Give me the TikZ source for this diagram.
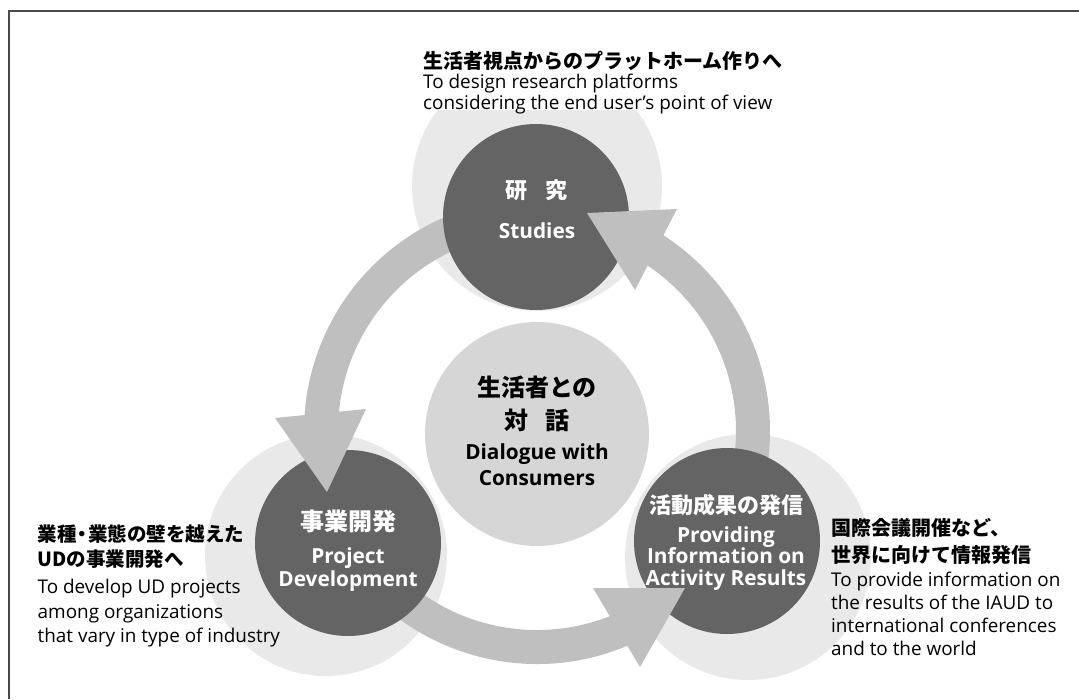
\documentclass[tikz,border=0pt]{standalone}
\usepackage{fontspec}
\setmainfont{Open Sans}
\newfontfamily\jp{Noto Sans CJK JP Black}
\definecolor{darkc}{HTML}{646464}
\definecolor{haloc}{HTML}{E9E9E9}
\definecolor{midc}{HTML}{D6D6D6}
\definecolor{bandc}{HTML}{BFBFBF}
\definecolor{framec}{HTML}{4A4A4A}
\begin{document}
\begin{tikzpicture}[x=1pt,y=-1pt,
  halobg/.style={circle,fill=haloc,inner sep=0pt,minimum size=#1},
  darkdisc/.style={circle,fill=darkc,inner sep=0pt,minimum size=186pt},
  middisc/.style={circle,fill=midc,inner sep=0pt,minimum size=224pt},
  bandarc/.style={draw=bandc,line width=34pt},
  headtip/.style={fill=bandc},
  jphead/.style={font=\jp\fontsize{20}{24}\selectfont,anchor=base west,inner sep=0pt},
  entext/.style={font=\fontsize{18.9}{22}\selectfont,anchor=base west,inner sep=0pt},
  jpwhite/.style={font=\jp\fontsize{22}{26}\selectfont,text=white,anchor=base,inner sep=0pt},
  enwhite/.style={font=\bfseries\fontsize{20.8}{24}\selectfont,text=white,anchor=base,inner sep=0pt},
  jpblack/.style={font=\jp\fontsize{24}{28}\selectfont,text=black,anchor=base,inner sep=0pt},
  enblack/.style={font=\bfseries\fontsize{20.8}{24}\selectfont,text=black,anchor=base,inner sep=0pt}]
\useasboundingbox (0,0) rectangle (1079,699);
% frame (only top and left edges visible)
\draw[framec,line width=2pt] (9,699) -- (9,11) -- (1079,11);
% halos
\node[halobg=250pt] (haloS) at (537,186) {};
\node[halobg=242pt] (haloP) at (326,555) {};
\node[halobg=246pt] (haloA) at (748,557) {};
% white backing of the top text
\fill[white] (418,42) rectangle (800,110);
% cycle bands
\coordinate (A) at (537,431);
\draw[bandarc] (A) ++(-90:216) arc[start angle=-90,end angle=-184,radius=216];
\draw[bandarc] (A) ++(-210:216) arc[start angle=-210,end angle=-294,radius=216];
\draw[bandarc] (A) ++(30:216) arc[start angle=30,end angle=-65,radius=216];
% discs
\node[darkdisc] (S) at (536,217) {};
\node[darkdisc] (P) at (348,543) {};
\node[darkdisc] (R) at (727,541) {};
\node[middisc] (C) at (537,434) {};
% arrow heads
\fill[headtip] (275,418) -- (366,409) -- (327,492) -- cycle;
\fill[headtip] (593,588) -- (685,588) -- (640,667) -- cycle;
\fill[headtip] (587,213) -- (677,209) -- (635,290) -- cycle;
% top text
\node[jphead] (t1) at (423,68) {生活者視点からのプラットホーム作りへ};
\node[entext] (t2) at (423,88.5) {To design research platforms};
\node[entext] (t3) at (423,109.5) {considering the end user’s point of view};
% left text
\node[jphead,font=\jp\fontsize{19.5}{24}\selectfont] (l1) at (37.5,541.5) {業種\kern-4pt・\kern-4pt業態の壁を越えた};
\node[jphead,font=\jp\fontsize{19.5}{24}\selectfont] (l2) at (37.5,566.5) {UDの事業開発へ};
\node[entext] (l3) at (37.5,593.5) {To develop UD projects};
\node[entext] (l4) at (37.5,618) {among organizations};
\node[entext] (l5) at (37.5,642.5) {that vary in type of industry};
% right text
\node[jphead] (r1) at (831,535) {国際会議開催など、};
\node[jphead] (r2) at (831,562.5) {世界に向けて情報発信};
\node[entext] (r3) at (831,586.5) {To provide information on};
\node[entext] (r4) at (831,609.5) {the results of the IAUD to};
\node[entext] (r5) at (831,632.5) {international conferences};
\node[entext] (r6) at (831,655.5) {and to the world};
% studies
\node[jpwhite] (s1) at (536,198.5) {研\kern18pt究};
\node[enwhite] (s2) at (537,238.5) {Studies};
% centre
\node[jpblack] (c1) at (537,396.5) {生活者との};
\node[jpblack] (c2) at (537,429.5) {対\kern17pt話};
\node[enblack] (c3) at (537,459.5) {Dialogue with};
\node[enblack] (c4) at (537,485.5) {Consumers};
% project
\node[jpwhite,font=\jp\fontsize{24}{28}\selectfont] (p1) at (348,530.5) {事業開発};
\node[enwhite] (p2) at (348,563) {Project};
\node[enwhite] (p3) at (348,586) {Development};
% activity
\node[jpwhite] (a1) at (726,513.5) {活動成果の発信};
\node[enwhite] (a2) at (726,542) {Providing};
\node[enwhite] (a3) at (726,563.5) {Information on};
\node[enwhite] (a4) at (726,585) {Activity Results};
\end{tikzpicture}
\end{document}
